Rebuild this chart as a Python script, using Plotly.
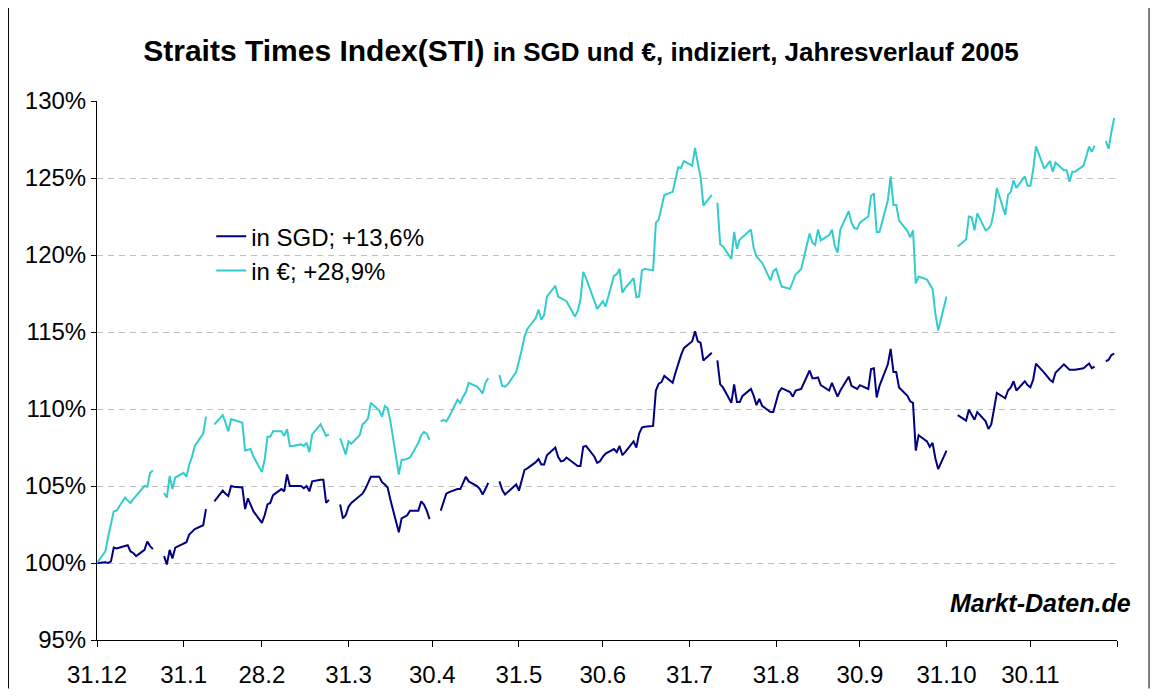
import pandas as pd
import plotly.graph_objects as go

# x: Start 31.12.2004 + alle Werktage 2005 (Feiertage in Singapur -> None = Luecke)
start_day = pd.Timestamp("2004-12-31")
work_days = pd.bdate_range("2005-01-03", "2005-12-30")
dates = [start_day] + list(work_days)

tick_dates = ["2004-12-31", "2005-01-31", "2005-02-28", "2005-03-31", "2005-04-30",
              "2005-05-31", "2005-06-30", "2005-07-31", "2005-08-31", "2005-09-30",
              "2005-10-31", "2005-11-30", "2005-12-31"]
tick_labels = ["31.12", "31.1", "28.2", "31.3", "30.4", "31.5", "30.6", "31.7",
               "31.8", "30.9", "31.10", "30.11", ""]
y_ticks = [95, 100, 105, 110, 115, 120, 125, 130]
y_labels = ["95%", "100%", "105%", "110%", "115%", "120%", "125%", "130%"]

# STI in SGD, indiziert (31.12.2004 = 100)
sti_sgd = [
    100.0,
    100.05, 100.0, 100.1, 101.0, 100.95, 101.1, 101.15, 100.75, 100.65, 100.45,
    100.85, 101.4, 101.1, 100.9, None, 100.45, 99.9, 100.85, 100.3, 101.0, 101.3,            # Jan
    101.35, 101.85, 102.05, 102.2, 102.45, 103.5, None, None, 104.0, 104.7, 104.5,
    104.35, 105.0, 104.95, 104.9, 103.5, 104.2, 103.8, 103.35, 102.6,                       # Feb
    103.1, 103.8, 103.9, 104.4, 104.8, 104.65, 105.75, 105.0, 105.0, 105.0, 104.85,
    105.0, 104.65, 105.3, 105.4, 105.4, 103.9, 104.1, None, 103.8, 102.9, 103.1, 103.65,    # Mar
    103.9, 104.35, 104.5, 104.8, 105.2, 105.6, 105.6, 105.25, 105.1, 104.9, 104.1,
    102.0, 102.9, 103.0, 103.1, 103.4, 103.4, 104.0, 103.8, 103.4, 102.85,                  # Apr
    None, 103.4, 104.0, 104.5, 104.6, 104.8, 104.8, 105.2, 105.6, 105.3, 105.0,
    104.8, 104.45, 104.8, 105.2, None, 105.3, 104.75, 104.45, 104.6, 105.1, 104.7,          # Mai
    105.3, 106.05, 106.15, 106.55, 106.75, 106.4, 106.4, 107.0, 107.5, 106.9, 106.6,
    106.65, 106.85, 106.4, 106.3, 106.3, 107.55, 107.6, 106.9, 106.5, 106.6, 106.9,         # Jun
    107.1, 107.4, 107.2, 107.6, 107.0, 107.2, 107.9, 107.5, 108.4, 108.8, 108.85,
    108.9, 111.2, 111.65, 111.75, 112.15, 111.7, 112.35, 113.0, 113.5, 113.95,              # Jul
    114.4, 115.05, 114.4, 114.3, 113.15, 113.65, None, 113.15, 111.6, 111.4, 110.4,
    111.6, 110.45, 110.45, 110.85, 111.3, 110.85, 110.25, 110.65, 110.2, 109.8, 109.8,
    110.4,                                                                                   # Aug
    111.1, 111.35, 111.1, 110.8, 111.2, 111.25, 111.3, 112.5, 112.0, 112.0, 112.05,
    111.55, 111.2, 111.7, 111.2, 110.8, 111.2, 112.1, 111.5, 111.4, 111.3, 111.55,          # Sep
    111.3, 112.6, 112.65, 110.75, 111.5, 112.9, 113.9, 112.4, 112.4, 111.4, 110.85,
    110.5, 110.4, 107.3, 108.3, 107.9, 107.55, 107.8, 106.8, 106.1, 107.3,                  # Okt
    None, 108.5, None, 109.6, 109.25, 109.95, 109.65, 109.3, 109.8, 109.2, 108.7,
    109.0, 110.0, 111.05, 110.7, 111.2, 111.4, 111.8, 111.2, 111.8, 111.55, 111.4,          # Nov
    111.9, 112.95, 112.35, 112.1, 111.9, 111.75, 112.35, 112.9, 112.7, 112.55, 112.55,
    112.55, 112.65, 112.8, 112.95, 112.65, 112.75, None, 113.1, 113.2, 113.5, 113.6,        # Dez
]

# STI in Euro, indiziert
sti_eur = [
    100.0,
    100.75, 101.7, 102.5, 103.35, 103.4, 104.25, 104.05, 103.9, 104.15, 104.35,
    105.0, 104.95, 105.85, 106.0, None, 104.55, 104.25, 105.65, 104.8, 105.55, 105.85,      # Jan
    105.6, 106.4, 106.9, 107.6, 108.4, 109.5, None, None, 109.0, 109.6, 109.1,
    108.55, 109.35, 109.3, 109.1, 107.3, 107.35, 107.4, 106.9, 105.9,                       # Feb
    106.7, 108.2, 108.2, 108.55, 108.55, 108.25, 108.7, 107.6, 107.6, 107.7, 107.6,
    107.8, 107.2, 108.35, 109.0, 108.6, 108.25, 108.35, None, 108.1, 107.5, 107.05, 107.9,  # Mar
    107.75, 108.3, 109.0, 109.15, 109.4, 110.4, 109.9, 109.5, 110.2, 110.05, 109.2,
    105.75, 106.7, 106.7, 106.8, 106.85, 107.8, 108.3, 108.5, 108.4, 108.0,                 # Apr
    None, 109.2, 109.3, 109.2, 109.5, 110.6, 110.4, 110.8, 111.1, 111.7, 111.45,
    111.25, 111.0, 111.7, 112.0, None, 112.2, 111.5, 111.45, 111.6, 112.4, 113.05,          # Mai
    113.85, 114.7, 115.2, 115.9, 116.45, 115.8, 116.1, 117.3, 118.0, 117.3, 117.2,
    117.15, 117.0, 116.0, 116.35, 117.1, 118.9, 118.5, 116.9, 116.5, 116.75, 117.0,         # Jun
    116.65, 118.65, 118.75, 119.1, 117.55, 117.85, 118.5, 117.25, 117.3, 119.0, 119.1,
    119.0, 122.1, 122.3, 123.1, 123.9, 124.1, 125.0, 125.7, 125.65, 126.1,                  # Jul
    125.8, 126.95, 125.95, 125.05, 123.2, 123.9, None, 123.4, 120.7, 120.55, 119.75,
    121.5, 120.4, 121.0, 121.15, 121.65, 120.45, 119.9, 119.7, 119.5, 118.35, 118.95,
    119.1,                                                                                   # Aug
    118.5, 117.95, 117.8, 118.3, 118.75, 118.9, 119.1, 121.4, 120.8, 120.65, 121.65,
    120.95, 121.3, 121.65, 120.6, 120.15, 121.65, 122.85, 122.1, 121.75, 121.7, 122.1,      # Sep
    122.5, 123.85, 124.0, 121.5, 121.5, 123.55, 125.1, 123.25, 123.25, 122.25, 121.55,
    121.15, 121.6, 118.15, 118.6, 118.4, 118.1, 117.8, 116.2, 115.1, 117.3,                 # Okt
    None, 119.0, None, 120.55, 121.0, 122.5, 122.45, 121.6, 122.7, 121.6, 121.7,
    122.0, 122.9, 124.35, 122.6, 123.9, 124.1, 124.85, 124.35, 125.1, 124.5, 124.5,         # Nov
    125.5, 127.05, 125.6, 125.85, 126.1, 125.4, 126.0, 125.5, 125.5, 124.75, 125.4,
    125.4, 125.8, 126.4, 127.05, 126.7, 127.1, None, 127.4, 126.9, 128.0, 128.9,            # Dez
]

assert len(sti_sgd) == len(dates), (len(sti_sgd), len(dates))
assert len(sti_eur) == len(dates), (len(sti_eur), len(dates))

FONT = "Liberation Sans, Arial, sans-serif"

# the page body keeps its 8px default margin, so the figure is 16px smaller
W, H = 1142, 681

fig = go.Figure()
fig.add_trace(go.Scatter(x=dates, y=sti_sgd, mode="lines", name="in SGD; +13,6%",
                         line=dict(color="#000080", width=2), connectgaps=False))
fig.add_trace(go.Scatter(x=dates, y=sti_eur, mode="lines", name="in €; +28,9%",
                         line=dict(color="#33CCCC", width=2), connectgaps=False))

fig.update_layout(
    width=W, height=H,
    margin=dict(l=89, r=33, t=93, b=49),
    paper_bgcolor="white", plot_bgcolor="white",
    font=dict(family=FONT, size=24, color="black"),
    title=dict(
        text="<b>Straits Times Index(STI)</b> <b><span style='font-size:26px'>in SGD und €, indiziert, Jahresverlauf 2005</span></b>",
        font=dict(size=30, family=FONT, color="black"),
        x=573 / W, xanchor="center", y=1 - 42 / H, yanchor="middle",
    ),
    legend=dict(x=0.112, y=0.79, xanchor="left", yanchor="top",
                bgcolor="rgba(0,0,0,0)", font=dict(size=24), tracegroupgap=0),
    xaxis=dict(type="date", range=["2004-12-31", "2005-12-31"],
               tickvals=tick_dates, ticktext=tick_labels,
               ticks="outside", ticklen=6, tickcolor="black", tickwidth=1,
               showline=True, linecolor="black", linewidth=1,
               showgrid=False, zeroline=False, ticklabelstandoff=7,
               automargin=False),
    yaxis=dict(range=[95, 130], tickvals=y_ticks, ticktext=y_labels,
               ticks="outside", ticklen=5, tickcolor="black",
               showline=True, linecolor="black", linewidth=1,
               showgrid=True, gridcolor="#BFBFBF", griddash="6px,5px", gridwidth=1,
               zeroline=False, automargin=False),
    annotations=[dict(text="<b><i>Markt-Daten.de</i></b>", xref="paper", yref="paper",
                      x=1.0157, y=0.068, xanchor="right", yanchor="middle",
                      showarrow=False, font=dict(size=25, family=FONT, color="black"))],
    shapes=[
        dict(type="line", xref="paper", yref="paper", x0=-0.0868, x1=-0.0868,
             y0=-0.09, y1=1.173, line=dict(color="black", width=1)),
        dict(type="line", xref="paper", yref="paper", x0=1.0314, x1=1.0314,
             y0=-0.09, y1=1.173, line=dict(color="black", width=1)),
    ],
)

fig.write_html("out.html")
